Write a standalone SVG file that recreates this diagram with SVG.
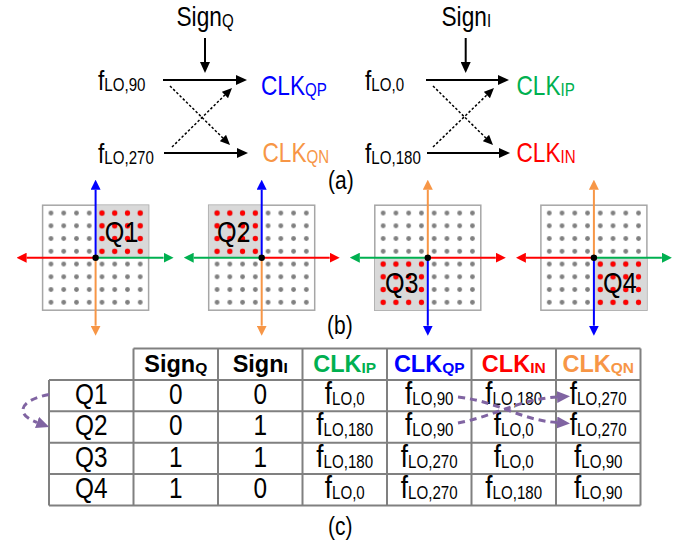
<svg xmlns="http://www.w3.org/2000/svg" width="694" height="548" viewBox="0 0 694 548">
<style>
.t{font-family:"Liberation Sans",Arial,sans-serif;fill:#000}
.h{font-family:"Liberation Sans",Arial,sans-serif;font-weight:bold;font-size:23.5px}
.a25{font-size:27px}
.s17{font-size:18px}
.f29{font-size:31px}
.n27{font-size:29px}
.sol{stroke:#000;stroke-width:2;fill:none}
.dot{stroke:#000;stroke-width:1.5;stroke-dasharray:2.5 2;fill:none}
.box{fill:#fff;stroke:#a6a6a6;stroke-width:1.5}
.shade{fill:#d9d9d9}
.ax{stroke-width:2;fill:none}
.grid{stroke:#808080;stroke-width:2;fill:none}
.pur{stroke:#8064a2;stroke-width:3;stroke-dasharray:7 5;fill:none}
</style>
<defs>
<marker id="ah" viewBox="0 0 11 10" refX="0" refY="5" markerWidth="11" markerHeight="10" markerUnits="userSpaceOnUse" orient="auto"><path d="M0,0L11,5L0,10z" fill="#000"/></marker>
<marker id="ahs" viewBox="0 0 10 9" refX="0" refY="4.5" markerWidth="10" markerHeight="9" markerUnits="userSpaceOnUse" orient="auto"><path d="M0,0L10,4.5L0,9z" fill="#000"/></marker>
<marker id="mB" viewBox="0 0 10 10" refX="0" refY="5" markerWidth="10" markerHeight="10" markerUnits="userSpaceOnUse" orient="auto"><path d="M0,0L10,5L0,10z" fill="#0000ff"/></marker>
<marker id="mR" viewBox="0 0 10 10" refX="0" refY="5" markerWidth="10" markerHeight="10" markerUnits="userSpaceOnUse" orient="auto"><path d="M0,0L10,5L0,10z" fill="#ff0000"/></marker>
<marker id="mG" viewBox="0 0 10 10" refX="0" refY="5" markerWidth="10" markerHeight="10" markerUnits="userSpaceOnUse" orient="auto"><path d="M0,0L10,5L0,10z" fill="#00b050"/></marker>
<marker id="mO" viewBox="0 0 10 10" refX="0" refY="5" markerWidth="10" markerHeight="10" markerUnits="userSpaceOnUse" orient="auto"><path d="M0,0L10,5L0,10z" fill="#f79646"/></marker>
<marker id="mP" viewBox="0 0 13 12" refX="0" refY="6" markerWidth="13" markerHeight="12" markerUnits="userSpaceOnUse" orient="auto"><path d="M0,0L13,6L0,12z" fill="#8064a2"/></marker>
<pattern id="gd" patternUnits="userSpaceOnUse" x="0" y="0" width="12.75" height="12.75"><circle cx="6.375" cy="6.375" r="2.4" fill="#808080"/></pattern>
<pattern id="rd" patternUnits="userSpaceOnUse" x="0" y="0" width="12.75" height="12.75"><circle cx="6.375" cy="6.375" r="2.6" fill="#ff0000"/></pattern>
</defs>

<!-- (a) -->
<g id="signQ"><text class="t a25" transform="translate(176.5,26) scale(0.84,1)">Sign<tspan class="s17" dy="1">Q</tspan></text></g>
<g id="signI"><text class="t a25" transform="translate(441.5,26) scale(0.84,1)">Sign<tspan class="s17" dy="1">I</tspan></text></g>
<g id="fLO90"><text class="t a25" transform="translate(98,90) scale(0.84,1)">f<tspan class="s17" dy="1">LO,90</tspan></text></g>
<g id="fLO270"><text class="t a25" transform="translate(98,163) scale(0.84,1)">f<tspan class="s17" dy="1">LO,270</tspan></text></g>
<g id="fLO0"><text class="t a25" transform="translate(365,90) scale(0.84,1)">f<tspan class="s17" dy="1">LO,0</tspan></text></g>
<g id="fLO180"><text class="t a25" transform="translate(365,163) scale(0.84,1)">f<tspan class="s17" dy="1">LO,180</tspan></text></g>
<g id="clkQP"><text class="t a25" style="fill:#0000ff" transform="translate(261,94.5) scale(0.84,1)">CLK<tspan class="s17" dy="1">QP</tspan></text></g>
<g id="clkQN"><text class="t a25" style="fill:#f79646" transform="translate(262.5,161.5) scale(0.84,1)">CLK<tspan class="s17" dy="1">QN</tspan></text></g>
<g id="clkIP"><text class="t a25" style="fill:#00b050" transform="translate(516.5,94.5) scale(0.84,1)">CLK<tspan class="s17" dy="1">IP</tspan></text></g>
<g id="clkIN"><text class="t a25" style="fill:#ff0000" transform="translate(516.5,161.5) scale(0.84,1)">CLK<tspan class="s17" dy="1">IN</tspan></text></g>
<g id="labelA"><text class="t" font-size="25" transform="translate(328,189) scale(0.84,1)">(a)</text></g>

<!-- (b) panels -->
<g id="q1" transform="translate(95.6,257.7)">
<rect class="box" x="-53" y="-52.5" width="106" height="105"/>
<rect class="shade" x="0" y="-52.5" width="53" height="52.5"/>
<rect x="-51" y="-51" width="102" height="102" fill="url(#gd)"/>
<rect x="0" y="-51" width="51" height="51" fill="url(#rd)"/>
<line class="ax" stroke="#0000ff" x1="0" y1="0" x2="0" y2="-68" marker-end="url(#mB)"/>
<line class="ax" stroke="#f79646" x1="0" y1="0" x2="0" y2="68" marker-end="url(#mO)"/>
<line class="ax" stroke="#ff0000" x1="0" y1="0" x2="-69" y2="0" marker-end="url(#mR)"/>
<line class="ax" stroke="#00b050" x1="0" y1="0" x2="68" y2="0" marker-end="url(#mG)"/>
<circle r="3.2" fill="#000"/>
<text class="t" font-size="30" text-anchor="middle" transform="translate(26,-16) scale(0.84,1)">Q1</text>
</g>
<g id="q2" transform="translate(261.7,257.7)">
<rect class="box" x="-53" y="-52.5" width="106" height="105"/>
<rect class="shade" x="-53" y="-52.5" width="53" height="52.5"/>
<rect x="-51" y="-51" width="102" height="102" fill="url(#gd)"/>
<rect x="-51" y="-51" width="51" height="51" fill="url(#rd)"/>
<line class="ax" stroke="#0000ff" x1="0" y1="0" x2="0" y2="-68" marker-end="url(#mB)"/>
<line class="ax" stroke="#f79646" x1="0" y1="0" x2="0" y2="68" marker-end="url(#mO)"/>
<line class="ax" stroke="#00b050" x1="0" y1="0" x2="-68" y2="0" marker-end="url(#mG)"/>
<line class="ax" stroke="#ff0000" x1="0" y1="0" x2="68" y2="0" marker-end="url(#mR)"/>
<circle r="3.2" fill="#000"/>
<text class="t" font-size="30" text-anchor="middle" transform="translate(-28,-16) scale(0.84,1)">Q2</text>
</g>
<g id="q3" transform="translate(427.8,257.7)">
<rect class="box" x="-53" y="-52.5" width="106" height="105"/>
<rect class="shade" x="-53" y="0" width="53" height="52.5"/>
<rect x="-51" y="-51" width="102" height="102" fill="url(#gd)"/>
<rect x="-51" y="0" width="51" height="51" fill="url(#rd)"/>
<line class="ax" stroke="#f79646" x1="0" y1="0" x2="0" y2="-68" marker-end="url(#mO)"/>
<line class="ax" stroke="#0000ff" x1="0" y1="0" x2="0" y2="68" marker-end="url(#mB)"/>
<line class="ax" stroke="#00b050" x1="0" y1="0" x2="-68" y2="0" marker-end="url(#mG)"/>
<line class="ax" stroke="#ff0000" x1="0" y1="0" x2="68" y2="0" marker-end="url(#mR)"/>
<circle r="3.2" fill="#000"/>
<text class="t" font-size="30" text-anchor="middle" transform="translate(-26,35.6) scale(0.84,1)">Q3</text>
</g>
<g id="q4" transform="translate(593.9,257.7)">
<rect class="box" x="-53" y="-52.5" width="106" height="105"/>
<rect class="shade" x="0" y="0" width="53" height="52.5"/>
<rect x="-51" y="-51" width="102" height="102" fill="url(#gd)"/>
<rect x="0" y="0" width="51" height="51" fill="url(#rd)"/>
<line class="ax" stroke="#f79646" x1="0" y1="0" x2="0" y2="-68" marker-end="url(#mO)"/>
<line class="ax" stroke="#0000ff" x1="0" y1="0" x2="0" y2="68" marker-end="url(#mB)"/>
<line class="ax" stroke="#ff0000" x1="0" y1="0" x2="-68" y2="0" marker-end="url(#mR)"/>
<line class="ax" stroke="#00b050" x1="0" y1="0" x2="68" y2="0" marker-end="url(#mG)"/>
<circle r="3.2" fill="#000"/>
<text class="t" font-size="30" text-anchor="middle" transform="translate(26,35.6) scale(0.84,1)">Q4</text>
</g>
<g id="labelB"><text class="t" font-size="25" transform="translate(327,334) scale(0.84,1)">(b)</text></g>

<!-- (c) table -->
<g id="table">
<path class="grid" d="M133.5,348.5H640.5M49,379.9H640.5M49,411.3H640.5M49,442.7H640.5M49,474.1H640.5M49,505.5H640.5M49,379.9V505.5M133.5,348.5V505.5M218,348.5V505.5M302.5,348.5V505.5M387,348.5V505.5M471.5,348.5V505.5M556,348.5V505.5M640.5,348.5V505.5"/>
<g text-anchor="middle">
<text class="h" x="175.75" y="371.5">Sign<tspan font-size="15.5" dy="1">Q</tspan></text>
<text class="h" x="260.25" y="371.5">Sign<tspan font-size="15.5" dy="1">I</tspan></text>
<text class="h" x="344.75" y="371.5" fill="#00b050">CLK<tspan font-size="15.5" dy="1">IP</tspan></text>
<text class="h" x="429.25" y="371.5" fill="#0000ff">CLK<tspan font-size="15.5" dy="1">QP</tspan></text>
<text class="h" x="513.75" y="371.5" fill="#ff0000">CLK<tspan font-size="15.5" dy="1">IN</tspan></text>
<text class="h" x="598.25" y="371.5" fill="#f79646">CLK<tspan font-size="15.5" dy="1">QN</tspan></text>

<text class="t n27" transform="translate(91.25,403.5) scale(0.84,1)">Q1</text>
<text class="t n27" transform="translate(175.75,403.5) scale(0.84,1)">0</text>
<text class="t n27" transform="translate(260.25,403.5) scale(0.84,1)">0</text>
<text class="t f29" transform="translate(344.75,403.5) scale(0.84,1)">f<tspan class="s17" dy="1">LO,0</tspan></text>
<text class="t f29" transform="translate(429.25,403.5) scale(0.84,1)">f<tspan class="s17" dy="1">LO,90</tspan></text>
<text class="t f29" transform="translate(513.75,403.5) scale(0.84,1)">f<tspan class="s17" dy="1">LO,180</tspan></text>
<text class="t f29" transform="translate(598.25,403.5) scale(0.84,1)">f<tspan class="s17" dy="1">LO,270</tspan></text>

<text class="t n27" transform="translate(91.25,435) scale(0.84,1)">Q2</text>
<text class="t n27" transform="translate(175.75,435) scale(0.84,1)">0</text>
<text class="t n27" transform="translate(260.25,435) scale(0.84,1)">1</text>
<text class="t f29" transform="translate(344.75,435) scale(0.84,1)">f<tspan class="s17" dy="1">LO,180</tspan></text>
<text class="t f29" transform="translate(429.25,435) scale(0.84,1)">f<tspan class="s17" dy="1">LO,90</tspan></text>
<text class="t f29" transform="translate(513.75,435) scale(0.84,1)">f<tspan class="s17" dy="1">LO,0</tspan></text>
<text class="t f29" transform="translate(598.25,435) scale(0.84,1)">f<tspan class="s17" dy="1">LO,270</tspan></text>

<text class="t n27" transform="translate(91.25,466.5) scale(0.84,1)">Q3</text>
<text class="t n27" transform="translate(175.75,466.5) scale(0.84,1)">1</text>
<text class="t n27" transform="translate(260.25,466.5) scale(0.84,1)">1</text>
<text class="t f29" transform="translate(344.75,466.5) scale(0.84,1)">f<tspan class="s17" dy="1">LO,180</tspan></text>
<text class="t f29" transform="translate(429.25,466.5) scale(0.84,1)">f<tspan class="s17" dy="1">LO,270</tspan></text>
<text class="t f29" transform="translate(513.75,466.5) scale(0.84,1)">f<tspan class="s17" dy="1">LO,0</tspan></text>
<text class="t f29" transform="translate(598.25,466.5) scale(0.84,1)">f<tspan class="s17" dy="1">LO,90</tspan></text>

<text class="t n27" transform="translate(91.25,497.8) scale(0.84,1)">Q4</text>
<text class="t n27" transform="translate(175.75,497.8) scale(0.84,1)">1</text>
<text class="t n27" transform="translate(260.25,497.8) scale(0.84,1)">0</text>
<text class="t f29" transform="translate(344.75,497.8) scale(0.84,1)">f<tspan class="s17" dy="1">LO,0</tspan></text>
<text class="t f29" transform="translate(429.25,497.8) scale(0.84,1)">f<tspan class="s17" dy="1">LO,270</tspan></text>
<text class="t f29" transform="translate(513.75,497.8) scale(0.84,1)">f<tspan class="s17" dy="1">LO,180</tspan></text>
<text class="t f29" transform="translate(598.25,497.8) scale(0.84,1)">f<tspan class="s17" dy="1">LO,90</tspan></text>
</g>
</g>
<g id="labelC"><text class="t" font-size="25" transform="translate(328,535) scale(0.84,1)">(c)</text></g>

<!-- connectors -->
<g id="connectors">
<line class="sol" x1="205" y1="38" x2="205" y2="62" marker-end="url(#ah)"/>
<line class="sol" x1="465.7" y1="38" x2="465.7" y2="62" marker-end="url(#ah)"/>
<line class="sol" x1="163" y1="80" x2="236" y2="80" marker-end="url(#ah)"/>
<line class="sol" x1="164" y1="153" x2="237" y2="153" marker-end="url(#ah)"/>
<line class="sol" x1="426" y1="80" x2="498" y2="80" marker-end="url(#ah)"/>
<line class="sol" x1="427" y1="153" x2="499" y2="153" marker-end="url(#ah)"/>
<line class="dot" x1="170" y1="86" x2="222.9" y2="138" marker-end="url(#ahs)"/>
<line class="dot" x1="172" y1="147" x2="224.9" y2="95" marker-end="url(#ahs)"/>
<line class="dot" x1="433" y1="86" x2="485.9" y2="138" marker-end="url(#ahs)"/>
<line class="dot" x1="433" y1="147" x2="486.8" y2="95" marker-end="url(#ahs)"/>
<path class="pur" d="M49,394.5C20,400 14,414 37,422.5" marker-end="url(#mP)"/>
<path class="pur" d="M458,397C500,402 520,420 557,422.5" marker-end="url(#mP)"/>
<path class="pur" d="M458,423C495,416 520,399 557,397" marker-end="url(#mP)"/>
</g>
</svg>
